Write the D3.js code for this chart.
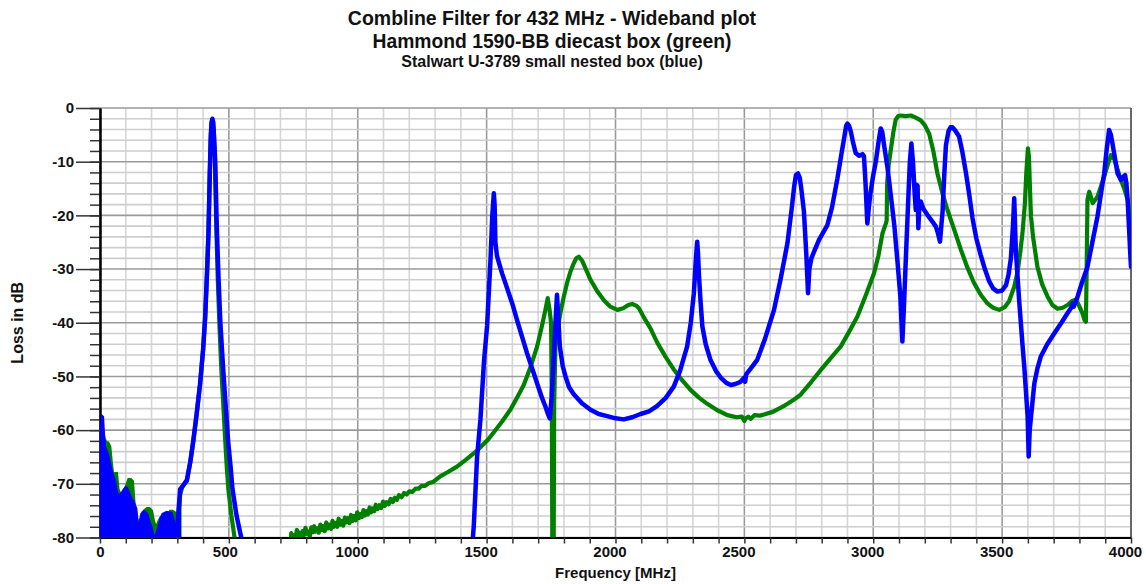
<!DOCTYPE html>
<html>
<head>
<meta charset="utf-8">
<script src="https://cdn.jsdelivr.net/npm/d3@7"></script>
<style>
  body { margin: 0; background: #fff; }
  text { font-family: "Liberation Sans", Arial, sans-serif; font-weight: bold; fill: #111; }
</style>
</head>
<body>
<div id="chart"></div>
<script>
// title lines
var titleLines = [
  "Combline Filter for 432 MHz - Wideband plot",
  "Hammond 1590-BB diecast box (green)",
  "Stalwart U-3789 small nested box (blue)"
];

var xTicks = [0, 500, 1000, 1500, 2000, 2500, 3000, 3500, 4000];
var yTicks = [0, -10, -20, -30, -40, -50, -60, -70, -80];

// noisy low band, top edge of the filled noise (MHz, dB)
var blueLowBand = [[0,-63],[3,-60],[7,-57.3],[12,-57.5],[16,-61],[20,-63],[27,-64],[32,-64.6],[38,-66],[45,-67.4],[52,-68.5],[58,-69.3],[64,-71],[70,-72],[78,-72],[86,-71.5],[93,-71],[100,-70.6],[106,-70.8],[112,-71.6],[117,-72],[124,-73],[130,-73.2],[136,-74],[141,-74.6],[146,-77],[150,-78.6],[155,-77],[160,-75.6],[166,-75.2],[172,-75.1],[178,-75.3],[185,-75.8],[192,-77],[200,-78],[207,-79.5],[214,-79.8],[220,-79],[226,-78],[234,-76.5],[242,-75.6],[250,-75.4],[259,-75.2],[267,-75.3],[278,-75.4],[286,-76.7],[294,-78],[300,-79],[305,-78.5],[311,-72]];

var greenLowBand = [[0,-63],[6,-59],[12,-60],[18,-61.5],[24,-62.2],[32,-62.3],[40,-63],[46,-66],[52,-68.5],[58,-68],[66,-68],[72,-71],[80,-72],[90,-71.5],[100,-70.5],[110,-69.1],[120,-69.1],[128,-69.5],[134,-73.5],[142,-76],[150,-77.5],[160,-76],[170,-75],[182,-74.5],[192,-74.5],[202,-75],[210,-77],[218,-78],[226,-77],[233,-76.3],[241,-76.1],[250,-76.8],[258,-76.6],[265,-76],[272,-75],[282,-75],[291,-75.3],[298,-77.5],[305,-76],[312,-72]];

// main traces (MHz, dB); null = trace below -80 dB
var blueTrace = [[300,-78],[311,-71],[320,-70.5],[337,-69.3],[350,-66],[362,-62],[375,-57],[388,-51.5],[400,-45],[408,-39],[415,-31],[421,-23],[426,-12],[430,-5],[433,-2.6],[436,-2],[439,-2.6],[442,-5],[447,-10],[453,-22],[460,-32],[467,-40],[477,-48],[487,-55],[497,-62],[507,-67],[514,-71],[530,-76],[548,-80],[556,-84],[560,null],
  [1440,-84],[1450,-78],[1463,-65],[1476,-58],[1490,-47],[1502,-40.5],[1515,-28.3],[1522,-20],[1528,-15.9],[1531,-18],[1534,-25],[1540,-27.5],[1547,-28.7],[1560,-30.8],[1579,-33.5],[1600,-36.5],[1618,-39.5],[1640,-43],[1657,-45.7],[1680,-49],[1696,-51.3],[1715,-54],[1728,-55.6],[1738,-57],[1745,-57.8],[1752,-54],[1760,-47],[1767,-40],[1773,-34.8],[1778,-39],[1784,-44.4],[1795,-48],[1806,-50],[1820,-52],[1838,-53.3],[1870,-55],[1903,-56.2],[1935,-57],[1968,-57.4],[2000,-57.8],[2032,-58],[2065,-57.6],[2097,-57],[2130,-56.5],[2162,-55.5],[2195,-54],[2226,-51.9],[2250,-49],[2278,-44.4],[2292,-40],[2304,-34.5],[2312,-28],[2317,-24.9],[2320,-27],[2324,-31.4],[2330,-36],[2337,-40.7],[2350,-44],[2369,-47],[2390,-49],[2408,-50.2],[2430,-51.2],[2447,-51.6],[2465,-51.4],[2485,-51],[2500,-50.2],[2503,-51],[2507,-49.6],[2525,-48.5],[2550,-46.9],[2580,-43],[2615,-37.6],[2640,-32],[2667,-25.2],[2683,-19],[2693,-14.7],[2700,-12.5],[2708,-12.2],[2715,-13],[2722,-15.5],[2731,-19.3],[2740,-27],[2747,-34.5],[2752,-30],[2760,-28],[2770,-26.8],[2790,-24.5],[2822,-21.8],[2840,-18.5],[2861,-13.1],[2875,-9],[2887,-5.6],[2895,-3.3],[2900,-2.9],[2906,-3.3],[2913,-4.4],[2922,-6.5],[2932,-8.4],[2945,-8.9],[2958,-8.6],[2964,-9],[2970,-14],[2977,-21.5],[2983,-18.5],[2990,-15.6],[3000,-12.5],[3010,-10],[3020,-6.5],[3029,-3.8],[3035,-4.5],[3042,-6.9],[3055,-11],[3068,-16.2],[3082,-22],[3094,-28.6],[3105,-35],[3113,-43.5],[3119,-37],[3126,-28.6],[3135,-18],[3142,-10],[3148,-6.6],[3154,-10],[3161,-16.2],[3165,-19],[3168,-14.3],[3172,-14.5],[3175,-22.4],[3178,-19],[3184,-17.4],[3195,-18.8],[3210,-19.9],[3230,-21.2],[3243,-22.1],[3252,-23.5],[3259,-24.9],[3264,-22],[3269,-19.3],[3276,-12],[3282,-6.9],[3292,-4.3],[3300,-3.6],[3307,-3.6],[3318,-4.2],[3333,-5.3],[3345,-8],[3359,-11.9],[3372,-16],[3385,-20.5],[3400,-24.3],[3417,-27.4],[3433,-30],[3450,-32.3],[3465,-33.6],[3482,-34.2],[3500,-34],[3515,-33],[3525,-31],[3534,-28],[3542,-22],[3547,-16.8],[3553,-26.4],[3566,-35.8],[3579,-44.1],[3586,-48.2],[3599,-57.5],[3603,-64.9],[3607,-60],[3612,-57.5],[3625,-51.3],[3637,-48.5],[3650,-46.3],[3675,-44],[3702,-42],[3730,-40],[3754,-38.2],[3768,-37.2],[3773,-36.4],[3778,-37],[3793,-35.1],[3810,-32.5],[3831,-29.6],[3850,-25],[3870,-20.2],[3885,-15.5],[3896,-12.2],[3905,-8],[3915,-4.1],[3922,-5],[3928,-6.6],[3940,-10],[3948,-12.2],[3961,-13.4],[3970,-12.8],[3977,-12.5],[3982,-14],[3987,-17.1],[3993,-23],[3997,-27],[4000,-29.6]];

var greenTrace = [[300,-78],[311,-72],[320,-70.5],[337,-69.5],[350,-66],[362,-62],[375,-57],[388,-51.5],[400,-45],[408,-39],[415,-31],[421,-23],[426,-12],[430,-5],[433,-2.8],[436,-2.3],[439,-2.8],[442,-5],[446,-10],[451,-22],[457,-32],[463,-40],[470,-48],[478,-55],[486,-62],[492,-67],[498,-71],[510,-76],[522,-80],[528,-84],[532,null],
  [738,-84],[742,-79.2],[748,-80.3],[753,-79.6],[758,-80.2],[764,-78.6],[769,-79.9],[774,-79.1],[780,-80],[786,-78.8],[791,-79.6],[797,-78.2],[803,-79.3],[808,-78.9],[814,-79.8],[820,-78.1],[826,-79],[831,-77.9],[837,-78.9],[843,-78.3],[849,-79.1],[855,-77.6],[861,-78.6],[866,-77.9],[872,-78.8],[878,-77.2],[884,-78.3],[890,-77.6],[896,-78.4],[902,-76.9],[908,-78],[914,-77.3],[920,-78],[926,-76.5],[932,-77.6],[938,-76.9],[944,-77.8],[950,-76.3],[956,-77.2],[962,-76.4],[968,-77.3],[974,-75.8],[980,-76.9],[986,-76],[992,-76.8],[998,-75.3],[1004,-76.4],[1010,-75.6],[1016,-76.2],[1022,-74.9],[1028,-75.9],[1034,-75.1],[1040,-75.7],[1046,-74.4],[1052,-75.3],[1058,-74.6],[1064,-75.1],[1070,-73.9],[1077,-74.7],[1084,-74],[1091,-74.5],[1098,-73.3],[1105,-74.1],[1112,-73.4],[1120,-73.8],[1128,-72.8],[1136,-73.4],[1144,-72.6],[1152,-73],[1160,-72.1],[1170,-72.5],[1180,-71.7],[1190,-72],[1200,-71.4],[1212,-71.5],[1224,-70.9],[1236,-70.9],[1248,-70.4],[1260,-70.4],[1275,-69.9],[1294,-69.6],[1320,-68.6],[1350,-67.8],[1385,-66.8],[1420,-65.5],[1463,-63.8],[1505,-61.8],[1528,-60.4],[1560,-58.4],[1592,-56.2],[1620,-53.8],[1644,-51.6],[1670,-48.3],[1696,-44.4],[1715,-40.5],[1728,-37.6],[1737,-35.4],[1744,-37.5],[1750,-40],[1753,-55],[1755,-84],[1760,-84],[1762,-55],[1767,-44.4],[1776,-41],[1786,-38.2],[1800,-35],[1812,-32.6],[1825,-30.5],[1838,-28.9],[1848,-28],[1858,-27.7],[1870,-28.4],[1885,-30],[1903,-32],[1930,-34.2],[1955,-35.8],[1980,-37],[2007,-37.6],[2030,-37.3],[2050,-36.7],[2065,-36.5],[2080,-36.8],[2091,-37.3],[2110,-39],[2135,-41],[2162,-43.7],[2195,-46.4],[2226,-48.7],[2260,-50.8],[2291,-52.5],[2325,-54],[2356,-55.1],[2395,-56.3],[2434,-57.2],[2470,-57.6],[2490,-57.5],[2500,-58.3],[2505,-57.8],[2515,-57.5],[2525,-57.9],[2540,-57.2],[2560,-57.3],[2576,-57.1],[2610,-56.6],[2654,-55.5],[2690,-54.4],[2718,-53.4],[2760,-51],[2800,-48.6],[2840,-46.3],[2874,-44.4],[2905,-41.8],[2938,-38.9],[2970,-35],[3003,-30.8],[3020,-27.5],[3036,-23.3],[3049,-21.5],[3052,-21],[3054,-14],[3060,-10.5],[3068,-7.8],[3078,-4.5],[3087,-2.2],[3097,-1.5],[3107,-1.4],[3125,-1.5],[3146,-1.4],[3165,-1.8],[3184,-2.3],[3200,-3.2],[3217,-4.8],[3233,-8],[3249,-12.2],[3268,-15.8],[3288,-19],[3315,-22.8],[3340,-26.4],[3365,-29.7],[3391,-32.6],[3417,-34.8],[3443,-36.4],[3465,-37.2],[3489,-37.6],[3510,-37.1],[3527,-36],[3547,-33.3],[3560,-30.5],[3570,-27],[3579,-23.3],[3588,-18],[3594,-12],[3600,-7.5],[3604,-9],[3608,-15],[3612,-20.2],[3620,-24],[3637,-29.6],[3655,-32.8],[3676,-35.1],[3695,-36.7],[3715,-37.4],[3735,-37.2],[3754,-36.7],[3770,-36],[3780,-35.8],[3792,-36.2],[3800,-37],[3812,-38.3],[3820,-39.5],[3825,-39.8],[3828,-30],[3831,-17.1],[3838,-15.6],[3844,-16.5],[3851,-17.7],[3860,-17.2],[3870,-16.5],[3882,-14.8],[3896,-12.8],[3910,-10.5],[3922,-8.8],[3935,-9.5],[3948,-11.5],[3961,-13.4],[3975,-15.2],[3987,-17.1],[4000,-21.5]];

var width = 1146, height = 584;
var plotLeft = 100, plotRight = 1131, plotTop = 108, plotBottom = 537.5;

var svg = d3.select("#chart").append("svg")
    .attr("width", width)
    .attr("height", height);

svg.append("rect").attr("width", width).attr("height", height).attr("fill", "#fff");

var x = d3.scaleLinear().domain([0, 4000]).range([plotLeft, plotRight]);
var y = d3.scaleLinear().domain([-80, 0]).range([plotBottom, plotTop]);

// grid
var grid = svg.append("g");
grid.selectAll(".vminor").data(d3.range(0, 4001, 100)).enter().append("line")
    .attr("x1", function(d) { return x(d); }).attr("x2", function(d) { return x(d); })
    .attr("y1", plotTop).attr("y2", plotBottom)
    .attr("stroke", function(d) { return d % 500 === 0 ? "#9a9a9a" : "#d6d6d6"; })
    .attr("stroke-width", 1.6);
grid.selectAll(".hminor").data(d3.range(-80, 1, 2)).enter().append("line")
    .attr("x1", plotLeft).attr("x2", plotRight)
    .attr("y1", function(d) { return y(d); }).attr("y2", function(d) { return y(d); })
    .attr("stroke", function(d) { return d % 10 === 0 ? "#9a9a9a" : "#cdcdcd"; })
    .attr("stroke-width", 1.6);
svg.append("line").attr("x1", plotRight).attr("x2", plotRight).attr("y1", plotTop).attr("y2", plotBottom)
    .attr("stroke", "#555").attr("stroke-width", 1.6);

// axes
svg.append("g").attr("transform", "translate(" + plotLeft + ",0)")
    .call(d3.axisLeft(y).tickValues(d3.range(-80, 1, 2)).tickSize(10).tickSizeOuter(0).tickFormat(""));
svg.append("g").attr("transform", "translate(" + plotLeft + ",0)")
    .call(d3.axisLeft(y).tickValues(yTicks).tickSize(24).tickSizeOuter(0).tickPadding(2)
      .tickFormat(function(d) { return String(d); }));
var xAxis = svg.append("g").attr("transform", "translate(0," + plotBottom + ")")
    .call(d3.axisBottom(x).tickValues(d3.range(0, 4001, 100)).tickSize(6).tickSizeOuter(0).tickPadding(3)
      .tickFormat(function(d) { return xTicks.indexOf(d) >= 0 ? String(d) : ""; }));
// labels sit a little left of their ticks in the original
xAxis.selectAll(".tick text").attr("dx", function(d) { return -(String(d).length - 1) * 2; });

svg.selectAll(".domain").attr("stroke", "#000").attr("stroke-width", 2);
svg.selectAll(".tick line").attr("stroke", "#333").attr("stroke-width", 1.5);
svg.selectAll(".tick text").attr("font-size", 15).attr("font-weight", "bold")
    .attr("font-family", "'Liberation Sans', Arial, sans-serif").attr("fill", "#111");

// curves
svg.append("clipPath").attr("id", "plot-clip")
  .append("rect").attr("x", plotLeft).attr("y", plotTop - 4)
  .attr("width", plotRight - plotLeft).attr("height", plotBottom - plotTop + 4);

var plot = svg.append("g").attr("clip-path", "url(#plot-clip)");

var area = d3.area()
    .x(function(d) { return x(d[0]); })
    .y0(y(-80))
    .y1(function(d) { return y(d[1]); });

var line = d3.line()
    .defined(function(d) { return d[1] !== null; })
    .x(function(d) { return x(d[0]); })
    .y(function(d) { return y(d[1]); });

plot.append("path").datum(greenLowBand).attr("d", area)
    .attr("fill", "#008000").attr("stroke", "#008000").attr("stroke-width", 2);
plot.append("path").datum(greenTrace).attr("d", line)
    .attr("fill", "none").attr("stroke", "#008000").attr("stroke-width", 4.2)
    .attr("stroke-linejoin", "round").attr("stroke-linecap", "round");

plot.append("path").datum(blueLowBand).attr("d", area)
    .attr("fill", "#0000ff").attr("stroke", "#0000ff").attr("stroke-width", 2);
plot.append("path").datum(blueTrace).attr("d", line)
    .attr("fill", "none").attr("stroke", "#0000ff").attr("stroke-width", 4.5)
    .attr("stroke-linejoin", "round").attr("stroke-linecap", "round");

// titles
var titleY = [25, 48, 67];
var titleSize = [19.5, 19.3, 16];
svg.selectAll(".title").data(titleLines).enter().append("text")
    .attr("x", 552)
    .attr("y", function(d, i) { return titleY[i]; })
    .attr("text-anchor", "middle")
    .attr("font-size", function(d, i) { return titleSize[i]; })
    .text(function(d) { return d; });

svg.append("text")
    .attr("x", (plotLeft + plotRight) / 2).attr("y", 578)
    .attr("text-anchor", "middle").attr("font-size", 15)
    .text("Frequency [MHz]");

svg.append("text")
    .attr("transform", "translate(23," + (plotTop + plotBottom) / 2 + ") rotate(-90)")
    .attr("text-anchor", "middle").attr("font-size", 16)
    .text("Loss in dB");
</script>
</body>
</html>
